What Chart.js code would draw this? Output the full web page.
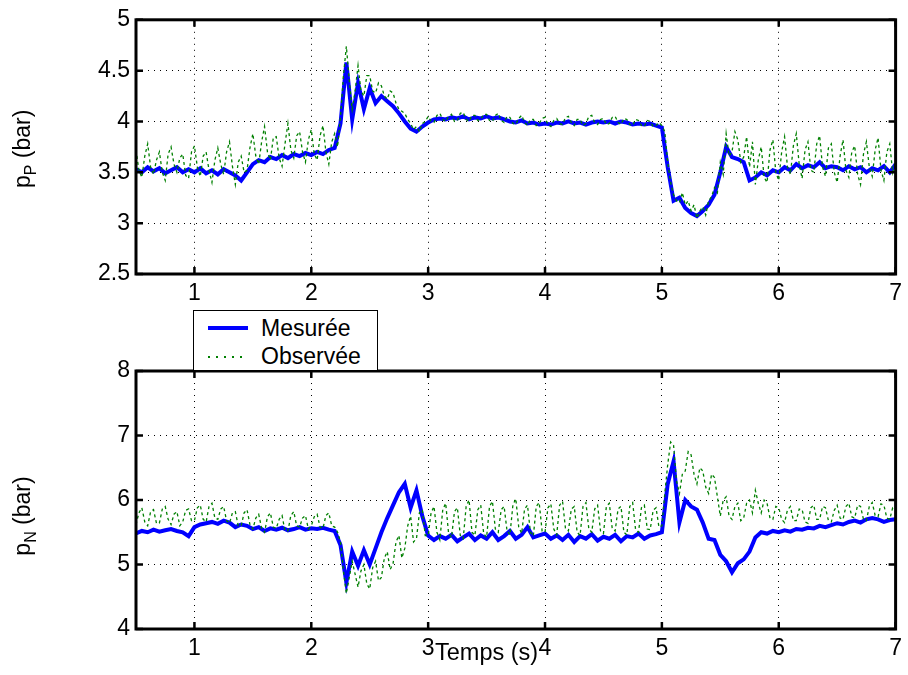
<!DOCTYPE html>
<html>
<head>
<meta charset="utf-8">
<script src="https://cdn.jsdelivr.net/npm/chart.js@4.4.0/dist/chart.umd.min.js"></script>
<style>
body { margin:0; background:#fff; width:908px; height:675px; position:relative; overflow:hidden;
       font-family:"Liberation Sans", Arial, sans-serif; color:#000; }
.panel { position:absolute; left:0; width:908px; }
#topBox { top:0; height:300px; }
#botBox { top:300px; height:375px; }
#xtitle { position:absolute; left:435px; top:639px; font-size:23.5px; white-space:nowrap; }
#legend { position:absolute; left:193px; top:310px; width:183px; height:59px; border:1px solid #000;
          background:#fff; font-size:23px; z-index:5; }
.row { position:absolute; left:0; height:26px; line-height:26px; }
.row .smp { position:absolute; left:14px; width:40px; top:11px; }
.row span { position:absolute; left:67px; white-space:nowrap; }
</style>
</head>
<body>
<div class="panel" id="topBox"><canvas id="topChart" width="908" height="300"></canvas></div>
<div class="panel" id="botBox"><canvas id="botChart" width="908" height="375"></canvas></div>
<div id="xtitle">Temps (s)</div>
<div id="legend"></div>
<script>
// sampling of the curves (s): measured every 50 ms, observer every 25 ms
var t0 = 0.5;
var dtMes = 0.05;
var dtObs = 0.025;

var xTickValues = [1, 2, 3, 4, 5, 6, 7];
var seriesNames = ['Mesurée', 'Observée'];

// p_P (bar)
var pP_mesuree = [
  3.53,3.50,3.55,3.51,3.54,3.49,3.52,3.55,3.50,3.53,
  3.50,3.54,3.49,3.52,3.48,3.53,3.50,3.47,3.42,3.50,
  3.58,3.62,3.60,3.65,3.63,3.67,3.64,3.68,3.66,3.69,
  3.67,3.70,3.68,3.72,3.74,3.98,4.58,4.02,4.38,4.12,
  4.33,4.18,4.25,4.20,4.15,4.08,4.00,3.93,3.90,3.95,
  3.99,4.02,4.03,4.02,4.04,4.03,4.05,4.02,4.04,4.03,
  4.05,4.03,4.04,4.02,4.00,3.99,4.01,3.98,3.99,3.97,
  3.98,3.97,3.99,3.98,4.00,3.98,3.99,3.97,3.99,4.00,
  3.99,4.00,3.98,4.00,3.99,3.97,3.98,3.97,3.98,3.96,
  3.94,3.55,3.22,3.25,3.15,3.10,3.07,3.12,3.18,3.28,
  3.50,3.75,3.65,3.63,3.60,3.42,3.45,3.50,3.47,3.52,
  3.50,3.55,3.52,3.58,3.54,3.57,3.55,3.60,3.54,3.56,
  3.55,3.52,3.56,3.53,3.55,3.50,3.54,3.52,3.56,3.50,3.58
];
var pP_observee = [
  3.72,3.52,3.45,3.66,3.78,3.55,3.48,3.62,3.70,3.50,3.42,3.68,3.75,3.58,3.50,3.64,3.68,3.47,3.44,3.70,
  3.76,3.55,3.46,3.66,3.70,3.52,3.40,3.62,3.74,3.58,3.48,3.70,3.80,3.56,3.38,3.60,3.66,3.50,3.52,3.74,
  3.88,3.66,3.58,3.80,3.95,3.70,3.62,3.84,3.85,3.64,3.56,3.78,3.98,3.72,3.64,3.86,3.90,3.70,3.60,3.82,
  3.92,3.68,3.62,3.86,3.96,3.70,3.58,3.80,3.88,3.75,4.05,4.45,4.74,4.40,4.12,4.30,4.55,4.30,4.25,4.45,
  4.45,4.30,4.28,4.38,4.35,4.25,4.22,4.30,4.28,4.18,4.12,4.10,4.08,4.02,3.98,3.92,3.95,3.90,3.98,4.00,
  4.05,4.00,3.99,4.06,4.08,4.02,4.00,4.05,4.07,4.00,4.01,4.08,4.09,4.02,4.00,4.06,4.06,4.01,4.02,4.07,
  4.07,4.01,4.00,4.06,4.08,4.01,3.99,4.05,4.04,3.98,3.97,4.03,4.06,3.99,3.96,4.02,4.02,3.96,3.98,4.03,
  4.04,3.97,3.95,4.01,4.03,3.98,3.97,4.04,4.05,3.99,3.96,4.02,4.02,3.96,3.98,4.05,4.06,3.99,3.97,4.02,
  4.03,3.97,3.98,4.04,4.05,3.99,3.97,4.03,4.02,3.97,3.96,4.02,4.01,3.96,3.95,4.01,4.00,3.95,3.96,3.99,
  3.96,3.90,3.60,3.40,3.28,3.22,3.20,3.30,3.18,3.22,3.12,3.18,3.05,3.12,3.16,3.08,3.22,3.26,3.35,3.30,
  3.60,3.48,3.88,3.66,3.70,3.90,3.82,3.60,3.65,3.85,3.55,3.80,3.38,3.62,3.75,3.45,3.40,3.72,3.82,3.50,
  3.42,3.70,3.85,3.55,3.48,3.76,3.88,3.58,3.44,3.72,3.80,3.52,3.50,3.78,3.86,3.55,3.46,3.74,3.78,3.50,
  3.40,3.66,3.82,3.52,3.45,3.70,3.76,3.48,3.38,3.68,3.80,3.55,3.46,3.72,3.84,3.52,3.42,3.70,3.78,3.50,3.62
];

// p_N (bar)
var pN_mesuree = [
  5.48,5.52,5.50,5.54,5.51,5.53,5.55,5.52,5.50,5.44,
  5.58,5.62,5.64,5.66,5.63,5.68,5.65,5.58,5.62,5.60,
  5.55,5.58,5.52,5.56,5.54,5.57,5.53,5.55,5.58,5.54,
  5.56,5.55,5.57,5.54,5.52,5.30,4.72,5.20,4.98,5.22,
  5.00,5.25,5.50,5.72,5.92,6.12,6.25,5.88,6.15,5.75,
  5.45,5.38,5.44,5.40,5.46,5.36,5.42,5.48,5.38,5.45,
  5.40,5.50,5.38,5.44,5.52,5.40,5.46,5.58,5.42,5.45,
  5.48,5.40,5.45,5.38,5.46,5.35,5.44,5.40,5.47,5.37,
  5.43,5.40,5.46,5.36,5.44,5.42,5.48,5.40,5.45,5.47,
  5.50,6.25,6.60,5.65,6.00,5.90,5.85,5.65,5.40,5.38,
  5.15,5.05,4.88,5.02,5.08,5.20,5.42,5.50,5.48,5.52,
  5.50,5.53,5.51,5.55,5.54,5.57,5.56,5.60,5.58,5.61,
  5.64,5.62,5.66,5.68,5.65,5.70,5.72,5.70,5.66,5.69,5.70
];
var pN_observee = [
  5.62,5.80,5.88,5.66,5.60,5.82,5.85,5.64,5.64,5.86,5.90,5.70,5.62,5.78,5.82,5.60,5.66,5.84,5.86,5.68,
  5.68,5.88,5.92,5.70,5.66,5.90,5.95,5.72,5.70,5.86,5.90,5.68,5.64,5.80,5.82,5.60,5.60,5.80,5.85,5.62,
  5.55,5.72,5.78,5.56,5.50,5.74,5.80,5.58,5.56,5.70,5.76,5.52,5.52,5.76,5.82,5.60,5.58,5.72,5.76,5.55,
  5.60,5.74,5.78,5.58,5.56,5.76,5.80,5.60,5.58,5.50,5.35,4.90,4.55,4.80,5.05,4.85,4.65,4.90,5.00,4.70,
  4.62,4.95,5.05,4.75,4.80,5.10,5.20,4.92,5.02,5.35,5.45,5.10,5.25,5.60,5.75,5.35,5.40,5.80,5.85,5.45,
  5.45,5.80,5.90,5.50,5.38,5.85,5.95,5.48,5.42,5.82,5.88,5.45,5.40,5.90,6.00,5.50,5.45,5.85,5.92,5.48,
  5.42,5.90,5.98,5.55,5.50,5.85,5.90,5.52,5.46,5.92,6.02,5.58,5.48,5.86,5.92,5.50,5.44,5.90,5.96,5.52,
  5.50,5.88,5.94,5.55,5.46,5.92,5.98,5.56,5.52,5.86,5.90,5.50,5.45,5.90,5.96,5.55,5.50,5.86,5.92,5.52,
  5.48,5.90,5.95,5.56,5.52,5.86,5.90,5.50,5.46,5.90,5.96,5.54,5.50,5.88,5.92,5.55,5.54,5.84,5.88,5.58,
  5.60,6.10,6.55,6.90,6.85,6.30,6.10,6.40,6.45,6.75,6.70,6.40,6.25,6.50,6.45,6.20,6.10,6.40,6.35,6.05,
  5.75,6.00,6.05,5.75,5.70,5.90,5.95,5.68,5.72,5.95,6.00,5.80,6.15,5.95,5.80,6.00,5.95,5.72,5.70,5.90,
  5.88,5.70,5.65,5.85,5.90,5.68,5.68,5.86,5.85,5.66,5.64,5.88,5.92,5.70,5.70,5.90,5.88,5.68,5.66,5.84,
  5.92,5.72,5.70,5.90,5.95,5.74,5.72,5.92,5.90,5.70,5.68,5.90,5.96,5.76,5.74,5.94,5.92,5.72,5.70,5.88,5.85
];

var FONT = '"Liberation Sans", Arial, sans-serif';
var BLUE = '#0000ff';
var GREEN = '#008000';

function toPoints(values, step) {
    return values.map(function (v, i) {
        return {x: +(t0 + i * step).toFixed(3), y: v};
    });
}

// matlab style box with ticks pointing inwards, plus the rotated y title with its subscript
var framePlugin = {
    id: 'frame',
    afterDatasetsDraw: function (chart, args, opts) {
        var ctx = chart.ctx;
        var a = chart.chartArea;
        var xs = chart.scales.x;
        var ys = chart.scales.y;
        var len = 7;
        ctx.save();
        ctx.strokeStyle = '#000';
        ctx.lineWidth = 2.5;
        ctx.beginPath();
        xs.ticks.forEach(function (t) {
            var px = xs.getPixelForValue(t.value);
            ctx.moveTo(px, a.bottom); ctx.lineTo(px, a.bottom - len);
            ctx.moveTo(px, a.top); ctx.lineTo(px, a.top + len);
        });
        ys.ticks.forEach(function (t) {
            var py = ys.getPixelForValue(t.value);
            ctx.moveTo(a.left, py); ctx.lineTo(a.left + len, py);
            ctx.moveTo(a.right, py); ctx.lineTo(a.right - len, py);
        });
        ctx.stroke();
        ctx.lineWidth = 3;
        ctx.strokeRect(a.left, a.top, a.right - a.left, a.bottom - a.top);

        // y title: p with subscript, then " (bar)"
        var big = '23px ' + FONT, small = '16px ' + FONT;
        ctx.font = big;
        var w1 = ctx.measureText('p').width;
        var w3 = ctx.measureText(' (bar)').width;
        ctx.font = small;
        var w2 = ctx.measureText(opts.sub).width;
        var x0 = -(w1 + w2 + w3) / 2;
        ctx.translate(30, (a.top + a.bottom) / 2 + opts.shift);
        ctx.rotate(-Math.PI / 2);
        ctx.fillStyle = '#000';
        ctx.textBaseline = 'alphabetic';
        ctx.textAlign = 'left';
        ctx.font = big;
        ctx.fillText('p', x0, 0);
        ctx.font = small;
        ctx.fillText(opts.sub, x0 + w1, 6);
        ctx.font = big;
        ctx.fillText(' (bar)', x0 + w1 + w2, 0);
        ctx.restore();
    }
};

function buildPanel(canvasId, mesuree, observee, yMin, yMax, yStep, padTop, padBottom, sub, shift) {
    return new Chart(document.getElementById(canvasId), {
        type: 'line',
        data: {
            datasets: [
                {
                    label: seriesNames[0],
                    data: toPoints(mesuree, dtMes),
                    borderColor: BLUE,
                    borderWidth: 4,
                    pointRadius: 0,
                    tension: 0,
                    order: 2
                },
                {
                    label: seriesNames[1],
                    data: toPoints(observee, dtObs),
                    borderColor: GREEN,
                    borderWidth: 1.3,
                    borderDash: [3, 3],
                    pointRadius: 0,
                    tension: 0,
                    order: 1
                }
            ]
        },
        options: {
            responsive: false,
            animation: false,
            layout: {padding: {left: 0, right: 8, top: padTop, bottom: padBottom}},
            plugins: {
                legend: {display: false},
                tooltip: {enabled: false},
                frame: {sub: sub, shift: shift}
            },
            scales: {
                x: {
                    type: 'linear',
                    min: 0.5,
                    max: 7,
                    afterBuildTicks: function (s) {
                        s.ticks = xTickValues.map(function (v) { return {value: v}; });
                    },
                    afterFit: function (s) { s.height = 26; },
                    ticks: {padding: 6, color: '#000', maxRotation: 0, autoSkip: false,
                            font: {family: FONT, size: 23}},
                    grid: {color: '#000', lineWidth: 1, drawTicks: false},
                    border: {display: false, dash: [1, 5]}
                },
                y: {
                    min: yMin,
                    max: yMax,
                    afterFit: function (s) { s.width = 136; },
                    ticks: {stepSize: yStep, padding: 6, color: '#000',
                            font: {family: FONT, size: 23},
                            callback: function (v) { return String(v); }},
                    grid: {color: '#000', lineWidth: 1, drawTicks: false},
                    border: {display: false, dash: [1, 5]}
                }
            }
        },
        plugins: [framePlugin]
    });
}

var topChart = buildPanel('topChart', pP_mesuree, pP_observee, 2.5, 5, 0.5, 15, 0, 'P', 2);
var botChart = buildPanel('botChart', pN_mesuree, pN_observee, 4, 8, 1, 71, 20, 'N', 16);

// legend box between the two panels
function buildLegend(chart) {
    var box = document.getElementById('legend');
    chart.data.datasets.forEach(function (ds, i) {
        var row = document.createElement('div');
        row.className = 'row';
        row.style.top = (4 + i * 28) + 'px';
        var smp = document.createElement('div');
        smp.className = 'smp';
        if (ds.borderDash) {
            smp.style.height = '2px';
            smp.style.top = '13px';
            smp.style.background = 'repeating-linear-gradient(90deg,' + ds.borderColor + ' 0 2px, transparent 2px 8px)';
        } else {
            smp.style.height = '4px';
            smp.style.background = ds.borderColor;
        }
        var txt = document.createElement('span');
        txt.textContent = ds.label;
        row.appendChild(smp);
        row.appendChild(txt);
        box.appendChild(row);
    });
}
buildLegend(botChart);
</script>
</body>
</html>
